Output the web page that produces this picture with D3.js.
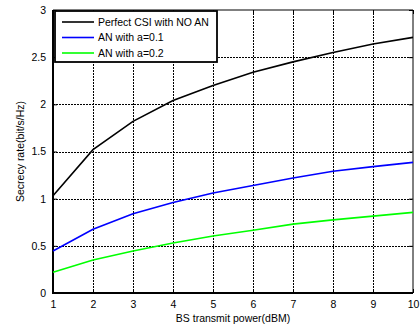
<!DOCTYPE html>
<html>
<head>
<meta charset="utf-8">
<script src="https://cdn.jsdelivr.net/npm/d3@7"></script>
<style>
  body { margin: 0; background: #fff; }
  text { font-family: "Liberation Sans", Arial, sans-serif; }
</style>
</head>
<body>
<div id="chart"></div>
<script>
// values
const power = [1, 2, 3, 4, 5, 6, 7, 8, 9, 10];
const perfectCsi = [1.03, 1.52, 1.82, 2.04, 2.2, 2.34, 2.45, 2.55, 2.64, 2.71];
const anA01 = [0.445, 0.675, 0.84, 0.96, 1.06, 1.14, 1.22, 1.29, 1.34, 1.385];
const anA02 = [0.22, 0.35, 0.445, 0.53, 0.605, 0.665, 0.73, 0.775, 0.815, 0.855];
const seriesNames = ['Perfect CSI with NO AN', 'AN with a=0.1', 'AN with a=0.2'];
const seriesColors = ['#000000', '#0000ff', '#00ff00'];
const yTicks = [0, 0.5, 1, 1.5, 2, 2.5, 3];

const width = 420, height = 331;
const margin = { top: 10, right: 7, bottom: 38, left: 53 };
const innerW = width - margin.left - margin.right;
const innerH = height - margin.top - margin.bottom;

const svg = d3.select('#chart').append('svg')
  .attr('width', width)
  .attr('height', height);

const g = svg.append('g')
  .attr('transform', 'translate(' + margin.left + ',' + margin.top + ')');

const x = d3.scaleLinear().domain([1, 10]).range([0, innerW]);
const y = d3.scaleLinear().domain([0, 3]).range([innerH, 0]);

// grid
g.append('g').selectAll('line')
  .data(power.slice(1, -1))
  .enter().append('line')
  .attr('x1', d => Math.round(x(d)) + 0.5).attr('x2', d => Math.round(x(d)) + 0.5)
  .attr('y1', 0).attr('y2', innerH)
  .attr('stroke', '#000').attr('stroke-width', 1)
  .attr('shape-rendering', 'crispEdges')
  .attr('stroke-dasharray', '2,1');

g.append('g').selectAll('line')
  .data(yTicks.slice(1, -1))
  .enter().append('line')
  .attr('x1', 0).attr('x2', innerW)
  .attr('y1', d => Math.round(y(d)) + 0.5).attr('y2', d => Math.round(y(d)) + 0.5)
  .attr('stroke', '#000').attr('stroke-width', 1)
  .attr('shape-rendering', 'crispEdges')
  .attr('stroke-dasharray', '2,1');

// axes (ticks inside, like matlab)
const xAxis = g.append('g')
  .attr('transform', 'translate(0,' + innerH + ')')
  .call(d3.axisBottom(x).tickValues(power).tickSize(-4).tickPadding(8).tickFormat(d3.format('d')));
const xTop = g.append('g')
  .call(d3.axisTop(x).tickValues(power).tickSize(-4).tickFormat(''));
const yAxis = g.append('g')
  .call(d3.axisLeft(y).tickValues(yTicks).tickSize(-4).tickPadding(7).tickFormat(d => d));
const yRight = g.append('g')
  .attr('transform', 'translate(' + innerW + ',0)')
  .call(d3.axisRight(y).tickValues(yTicks).tickSize(-4).tickFormat(''));

[xAxis, xTop, yAxis, yRight].forEach(a => {
  a.select('.domain').remove();
  a.selectAll('text').attr('font-size', 10.5).attr('fill', '#000')
    .style('font-family', '"Liberation Sans", Arial, sans-serif');
});

// frame: heavier on left and bottom
g.append('path')
  .attr('d', 'M0,0H' + innerW + 'V' + innerH)
  .attr('fill', 'none').attr('stroke', '#000').attr('stroke-width', 1);
g.append('path')
  .attr('d', 'M0,0V' + innerH + 'H' + innerW)
  .attr('fill', 'none').attr('stroke', '#000').attr('stroke-width', 2);

// lines
const line = d3.line()
  .x((d, i) => x(power[i]))
  .y(d => y(d));

[perfectCsi, anA01, anA02].forEach((s, k) => {
  g.append('path')
    .datum(s)
    .attr('d', line)
    .attr('fill', 'none')
    .attr('stroke', seriesColors[k])
    .attr('stroke-width', 1.6);
});

// legend
const legend = g.append('g').attr('transform', 'translate(2,1)');
legend.append('rect')
  .attr('width', 162).attr('height', 51)
  .attr('fill', '#fff').attr('stroke', '#000').attr('stroke-width', 1.8);
seriesNames.forEach((name, k) => {
  const row = legend.append('g').attr('transform', 'translate(0,' + (11 + k * 15.5) + ')');
  row.append('line')
    .attr('x1', 7).attr('x2', 39)
    .attr('stroke', seriesColors[k]).attr('stroke-width', 1.6);
  row.append('text')
    .attr('x', 43).attr('dy', '0.35em')
    .attr('font-size', 10.5)
    .text(name);
});

// axis labels
svg.append('text')
  .attr('x', margin.left + innerW / 2).attr('y', 322)
  .attr('text-anchor', 'middle').attr('font-size', 10.5)
  .text('BS transmit power(dBM)');

svg.append('text')
  .attr('transform', 'translate(24,' + (margin.top + innerH / 2) + ') rotate(-90)')
  .attr('text-anchor', 'middle').attr('font-size', 10.5)
  .text('Secrecy rate(bit/s/Hz)');
</script>
</body>
</html>
